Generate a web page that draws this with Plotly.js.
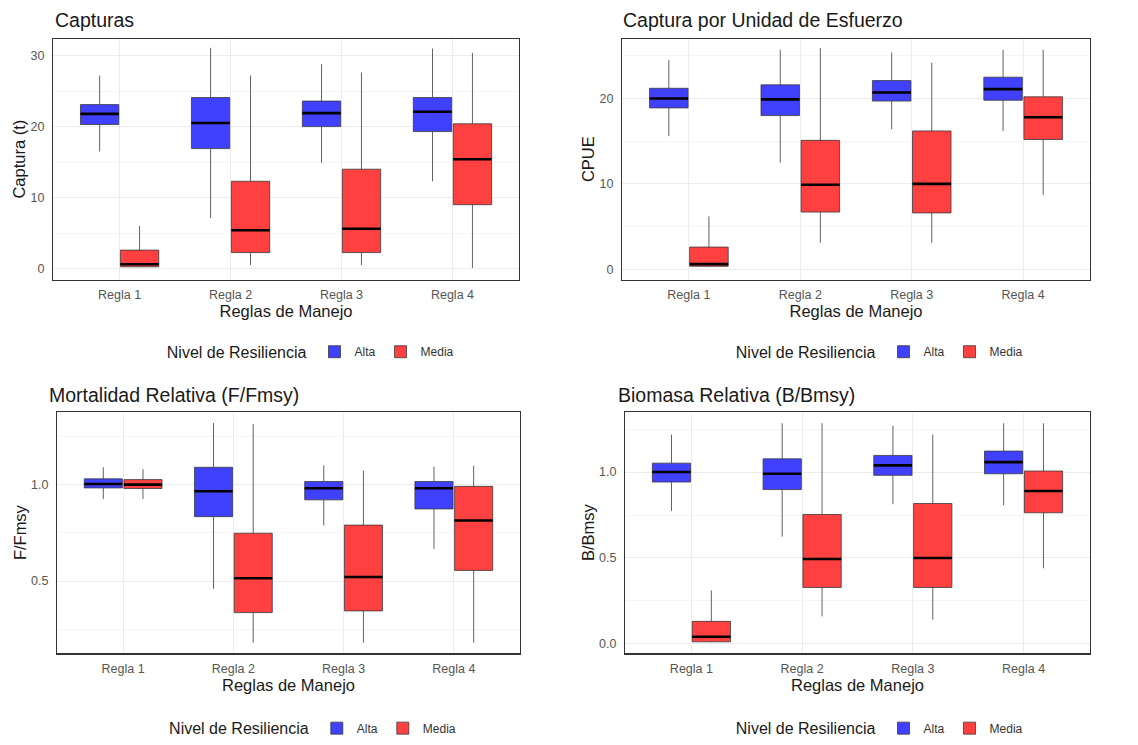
<!DOCTYPE html>
<html>
<head>
<meta charset="utf-8">
<script src="https://cdn.plot.ly/plotly-3.0.1.min.js"></script>
<style>html,body{margin:0;padding:0;background:#fff;}#chart{width:1138px;height:745px;}</style>
</head>
<body>
<div id="chart"></div>
<script>
// ---------- DATA ----------
const categories = ['Regla 1', 'Regla 2', 'Regla 3', 'Regla 4'];
const seriesNames = ['Alta', 'Media'];
const panelTitles = ['Capturas', 'Captura por Unidad de Esfuerzo', 'Mortalidad Relativa (F/Fmsy)', 'Biomasa Relativa (B/Bmsy)'];
const yTitles = ['Captura (t)', 'CPUE', 'F/Fmsy', 'B/Bmsy'];
const xTitle = 'Reglas de Manejo';
const legendTitle = 'Nivel de Resiliencia';

// Capturas
const capAltaLow = [16.5, 7.1, 14.9, 12.3];
const capAltaQ1 = [20.3, 16.9, 20.0, 19.3];
const capAltaMed = [21.8, 20.5, 21.9, 22.1];
const capAltaQ3 = [23.1, 24.1, 23.6, 24.1];
const capAltaHigh = [27.2, 31.1, 28.8, 31.0];
const capMediaLow = [0.2, 0.5, 0.5, 0.1];
const capMediaQ1 = [0.25, 2.25, 2.25, 9.0];
const capMediaMed = [0.6, 5.4, 5.6, 15.4];
const capMediaQ3 = [2.6, 12.3, 14.0, 20.4];
const capMediaHigh = [6.0, 27.2, 27.6, 30.4];

// CPUE
const cpueAltaLow = [15.6, 12.5, 16.4, 16.2];
const cpueAltaQ1 = [18.9, 18.0, 19.7, 19.8];
const cpueAltaMed = [20.0, 19.9, 20.7, 21.1];
const cpueAltaQ3 = [21.2, 21.6, 22.1, 22.5];
const cpueAltaHigh = [24.5, 25.7, 25.4, 25.7];
const cpueMediaLow = [0.3, 3.1, 3.1, 8.7];
const cpueMediaQ1 = [0.35, 6.7, 6.6, 15.2];
const cpueMediaMed = [0.6, 9.9, 10.0, 17.8];
const cpueMediaQ3 = [2.6, 15.1, 16.2, 20.2];
const cpueMediaHigh = [6.2, 25.9, 24.2, 25.7];

// F/Fmsy
const fAltaLow = [0.926, 0.46, 0.788, 0.667];
const fAltaQ1 = [0.983, 0.834, 0.921, 0.874];
const fAltaMed = [1.003, 0.966, 0.981, 0.981];
const fAltaQ3 = [1.03, 1.09, 1.016, 1.016];
const fAltaHigh = [1.09, 1.32, 1.10, 1.093];
const fMediaLow = [0.926, 0.18, 0.18, 0.18];
const fMediaQ1 = [0.98, 0.336, 0.345, 0.555];
const fMediaMed = [1.0, 0.514, 0.521, 0.814];
const fMediaQ3 = [1.026, 0.748, 0.79, 0.991];
const fMediaHigh = [1.08, 1.314, 1.072, 1.098];

// B/Bmsy
const bAltaLow = [0.774, 0.624, 0.813, 0.807];
const bAltaQ1 = [0.942, 0.898, 0.981, 0.99];
const bAltaMed = [1.0, 0.99, 1.039, 1.058];
const bAltaQ3 = [1.052, 1.077, 1.097, 1.122];
const bAltaHigh = [1.218, 1.284, 1.27, 1.284];
const bMediaLow = [0.01, 0.16, 0.141, 0.44];
const bMediaQ1 = [0.012, 0.328, 0.328, 0.763];
const bMediaMed = [0.041, 0.494, 0.5, 0.89];
const bMediaQ3 = [0.131, 0.753, 0.817, 1.006];
const bMediaHigh = [0.311, 1.284, 1.218, 1.284];

// ---------- STYLE ----------
const FONT = 'Liberation Sans, Arial, sans-serif';
const fillColors = {Alta: '#4040ff', Media: '#ff4040'};

const panels = [
  {alta: [capAltaLow, capAltaQ1, capAltaMed, capAltaQ3, capAltaHigh],
   media: [capMediaLow, capMediaQ1, capMediaMed, capMediaQ3, capMediaHigh],
   range: [-1.54, 32.38], dtick: 10, fmt: 'd',
   xd: [0.0466, 0.4561], yd: [0.6228, 0.9477], title: [53, 20], legend: [0.274, 0.524]},
  {alta: [cpueAltaLow, cpueAltaQ1, cpueAltaMed, cpueAltaQ3, cpueAltaHigh],
   media: [cpueMediaLow, cpueMediaQ1, cpueMediaMed, cpueMediaQ3, cpueMediaHigh],
   range: [-1.2, 27.0], dtick: 10, fmt: 'd',
   xd: [0.5466, 0.9578], yd: [0.6228, 0.9477], title: [621, 20], legend: [0.774, 0.524]},
  {alta: [fAltaLow, fAltaQ1, fAltaMed, fAltaQ3, fAltaHigh],
   media: [fMediaLow, fMediaQ1, fMediaMed, fMediaQ3, fMediaHigh],
   range: [0.124, 1.378], dtick: 0.5, fmt: '.1f',
   xd: [0.0501, 0.4569], yd: [0.1181, 0.4443], title: [47, 397], legend: [0.276, 0.016]},
  {alta: [bAltaLow, bAltaQ1, bAltaMed, bAltaQ3, bAltaHigh],
   media: [bMediaLow, bMediaQ1, bMediaMed, bMediaQ3, bMediaHigh],
   range: [-0.056, 1.351], dtick: 0.5, fmt: '.1f',
   xd: [0.5492, 0.9578], yd: [0.1181, 0.4443], title: [616, 397], legend: [0.774, 0.016]}
];

const traces = [];
const layout = {
  width: 1138, height: 745,
  margin: {l: 0, r: 0, t: 0, b: 0},
  paper_bgcolor: '#ffffff', plot_bgcolor: '#ffffff',
  font: {family: FONT, color: '#222222'},
  boxmode: 'group', boxgap: 0.28, boxgroupgap: 0.04,
  annotations: [],
  showlegend: true
};

panels.forEach((p, i) => {
  const n = i + 1;
  const xa = n === 1 ? 'x' : 'x' + n;
  const ya = n === 1 ? 'y' : 'y' + n;
  const legId = n === 1 ? 'legend' : 'legend' + n;
  [['Alta', p.alta], ['Media', p.media]].forEach(([name, s]) => {
    traces.push({
      type: 'box', name: name, x: categories, xaxis: xa, yaxis: ya,
      lowerfence: s[0], q1: s[1], median: s[2], q3: s[3], upperfence: s[4],
      fillcolor: fillColors[name], line: {color: '#3a3a3a', width: 0.8},
      whiskerwidth: 0, offsetgroup: name, legend: legId, showlegend: true,
      hoverinfo: 'skip'
    });
    // thick median line
    traces.push({
      type: 'box', name: name + ' mediana', x: categories, xaxis: xa, yaxis: ya,
      lowerfence: s[2], q1: s[2], median: s[2], q3: s[2], upperfence: s[2],
      fillcolor: 'rgba(0,0,0,0)', line: {color: '#000000', width: 2.6},
      whiskerwidth: 0, offsetgroup: name, legend: legId, showlegend: false,
      hoverinfo: 'skip'
    });
  });
  const xKey = n === 1 ? 'xaxis' : 'xaxis' + n;
  const yKey = n === 1 ? 'yaxis' : 'yaxis' + n;
  layout[xKey] = {
    domain: p.xd, anchor: ya, type: 'category', range: [-0.6, 3.6],
    showgrid: true, gridcolor: '#ececec', gridwidth: 1,
    showline: true, mirror: true, linecolor: '#333333', linewidth: 1.1,
    ticks: '', ticklabelstandoff: 3,
    tickfont: {size: 12.5, color: '#555555', family: FONT},
    title: {text: xTitle, font: {size: 16.5, color: '#1a1a1a', family: FONT}, standoff: 4},
    zeroline: false, fixedrange: true
  };
  layout[yKey] = {
    domain: p.yd, anchor: xa, range: p.range, dtick: p.dtick, tick0: 0, tickformat: p.fmt,
    showgrid: true, gridcolor: '#ececec', gridwidth: 1,
    minor: {dtick: p.dtick / 2, showgrid: true, gridcolor: '#f4f4f4', gridwidth: 0.8},
    showline: true, mirror: true, linecolor: '#333333', linewidth: 1.1,
    ticks: '', ticklabelstandoff: 5,
    tickfont: {size: 12.5, color: '#555555', family: FONT},
    title: {text: yTitles[i], font: {size: 16.5, color: '#1a1a1a', family: FONT}, standoff: 0},
    zeroline: false, fixedrange: true
  };
  layout[legId] = {
    orientation: 'h', x: p.legend[0], xanchor: 'center', y: p.legend[1], yanchor: 'middle',
    bgcolor: 'rgba(0,0,0,0)',
    title: {text: legendTitle, side: 'left', font: {size: 16, color: '#1a1a1a', family: FONT}},
    font: {size: 12, color: '#333333', family: FONT},
    itemwidth: 30, traceorder: 'normal'
  };
  layout.annotations.push({
    text: panelTitles[i], xref: 'paper', yref: 'paper',
    x: p.title[0] / 1138, y: 1 - p.title[1] / 745, xanchor: 'left', yanchor: 'middle',
    showarrow: false, font: {size: 19.5, color: '#1a1a1a', family: FONT}
  });
});

Plotly.newPlot('chart', traces, layout, {displayModeBar: false, staticPlot: true});
</script>
</body>
</html>
